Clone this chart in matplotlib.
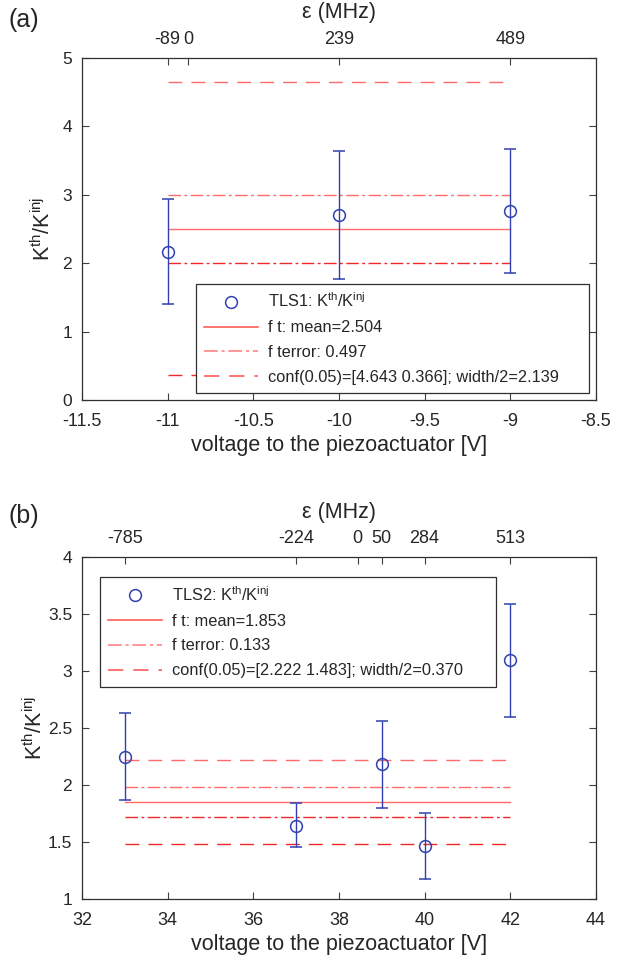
import matplotlib
matplotlib.use('Agg')
import matplotlib.pyplot as plt

# fonts - Liberation Sans is close to the Helvetica look of the original
plt.rcParams['font.family'] = ['Liberation Sans', 'DejaVu Sans']
plt.rcParams['mathtext.default'] = 'regular'

# panel (a) data: TLS1
volt_a = [-11, -10, -9]
k_a = [2.166, 2.70, 2.76]
k_a_low = [1.395, 1.77, 1.856]
k_a_high = [2.94, 3.63, 3.66]
mean_a = 2.504
err_a = 0.497
conf_a = [4.643, 0.366]
half_a = 2.139
eps_pos_a = [-11, -10.879, -10, -9]
eps_lab_a = ['-89', '0', '239', '489']

# panel (b) data: TLS2
volt_b = [33, 37, 39, 40, 42]
k_b = [2.25, 1.642, 2.183, 1.465, 3.095]
k_b_low = [1.865, 1.453, 1.795, 1.18, 2.593]
k_b_high = [2.63, 1.839, 2.56, 1.756, 3.59]
mean_b = 1.853
err_b = 0.133
conf_b = [2.222, 1.483]
half_b = 0.370
eps_pos_b = [33, 37, 38.44, 39, 40, 42]
eps_lab_b = ['-785', '-224', '0', '50', '284', '513']

blue = '#3040b0'
red_up = '#ff6a6a'
red_lo = '#f02828'
txt = '#262626'
dash = (10, 6.5)
dashdot = (9, 2.5, 2, 2.5)

fig = plt.figure(figsize=(6.35, 9.69), dpi=100)


def panel(rect, x, y, lo, hi, mean, err, conf, half, xlim, ylim, xticks, yticks,
          eps_pos, eps_lab, name, leg_box, leg_loc, ylab_x):
    ax = fig.add_axes(rect)
    yerr = [[y[i] - lo[i] for i in range(len(y))], [hi[i] - y[i] for i in range(len(y))]]
    ax.errorbar(x, y, yerr=yerr, fmt='o', color=blue, mfc='none', mec=blue,
                ms=8.5, mew=1.1, capsize=4.5, elinewidth=1.0, capthick=1.0, zorder=3)
    x0, x1 = min(x), max(x)
    ax.plot([x0, x1], [mean, mean], '-', color=red_up, lw=1.0, zorder=2)
    h2, = ax.plot([x0, x1], [mean + err, mean + err], color=red_up, lw=1.0, zorder=2)
    h2.set_dashes(dashdot)
    l2, = ax.plot([x0, x1], [mean - err, mean - err], color=red_lo, lw=1.0, zorder=2)
    l2.set_dashes(dashdot)
    h3, = ax.plot([x0, x1], [conf[0], conf[0]], color=red_up, lw=1.0, zorder=2)
    h3.set_dashes(dash)
    l3, = ax.plot([x0, x1], [conf[1], conf[1]], color=red_lo, lw=1.0, zorder=2)
    l3.set_dashes(dash)

    ax.set_xlim(xlim)
    ax.set_ylim(ylim)
    ax.set_xticks(xticks)
    ax.set_xticklabels([('%g' % t) for t in xticks])
    ax.set_yticks(yticks)
    ax.set_yticklabels([('%g' % t) for t in yticks])
    ax.tick_params(direction='in', length=5, width=0.8, colors='#404040',
                   labelcolor=txt, labelsize=13, right=True, top=False)
    ax.tick_params(axis='x', pad=9)
    ax.tick_params(axis='y', pad=7, labelsize=12.5)
    for s in ax.spines.values():
        s.set_color('#303030')
        s.set_linewidth(0.9)
    ax.set_xlabel('voltage to the piezoactuator [V]', fontsize=15.5, color=txt, labelpad=4)
    ax.set_ylabel('K$^{th}$/K$^{inj}$', fontsize=15.5, color=txt)
    ax.yaxis.set_label_coords(ylab_x, 0.5)

    # top axis: detuning epsilon
    top = ax.twiny()
    top.set_xlim(xlim)
    top.set_xticks(eps_pos)
    top.set_xticklabels(eps_lab)
    top.tick_params(direction='in', length=5, width=0.8, colors='#404040',
                    labelcolor=txt, labelsize=13, pad=7)
    top.set_xlabel('ε (MHz)', fontsize=15.5, color=txt, labelpad=9)
    for s in top.spines.values():
        s.set_visible(False)

    # legend
    mk = plt.Line2D([], [], ls='none', marker='o', ms=8.5, mfc='none', mec=blue, mew=1.1)
    lh1 = plt.Line2D([], [], color='#ff4d4d', lw=1.1)
    lh2 = plt.Line2D([], [], color='#ff7a7a', lw=1.1, dashes=dashdot)
    lh3 = plt.Line2D([], [], color='#ff4d4d', lw=1.1, dashes=dash)
    labels = [name + ': K$^{th}$/K$^{inj}$',
              'f t: mean=%.3f' % mean,
              'f terror: %.3f' % err,
              'conf(0.05)=[%.3f %.3f]; width/2=%.3f' % (conf[0], conf[1], half)]
    leg = top.legend([mk, lh1, lh2, lh3], labels, loc=leg_loc, bbox_to_anchor=leg_box,
                     bbox_transform=ax.transAxes, mode='expand', borderaxespad=0,
                     fontsize=11.8, handlelength=3.3, handletextpad=0.6, labelspacing=0.6,
                     borderpad=0.5, fancybox=False, framealpha=1, edgecolor='#303030')
    leg.get_frame().set_linewidth(0.9)
    for t in leg.get_texts():
        t.set_color(txt)
    return ax


panel([0.129, 0.5872, 0.8094, 0.3533], volt_a, k_a, k_a_low, k_a_high, mean_a, err_a, conf_a, half_a,
      (-11.5, -8.5), (0, 5), [-11.5, -11, -10.5, -10, -9.5, -9, -8.5], [0, 1, 2, 3, 4, 5],
      eps_pos_a, eps_lab_a, 'TLS1', (0.222, 0.020, 0.764, 0.322), 'lower left', -0.052)

panel([0.129, 0.0722, 0.8094, 0.3529], volt_b, k_b, k_b_low, k_b_high, mean_b, err_b, conf_b, half_b,
      (32, 44), (1, 4), [32, 34, 36, 38, 40, 42, 44], [1, 1.5, 2, 2.5, 3, 3.5, 4],
      eps_pos_b, eps_lab_b, 'TLS2', (0.035, 0.623, 0.77, 0.319), 'upper left', -0.068)

fig.text(8 / 635, 1 - 20 / 969, '(a)', fontsize=18, color=txt, ha='left', va='center')
fig.text(8 / 635, 1 - 516 / 969, '(b)', fontsize=18, color=txt, ha='left', va='center')

fig.savefig('out.png', dpi=100, facecolor='white')
